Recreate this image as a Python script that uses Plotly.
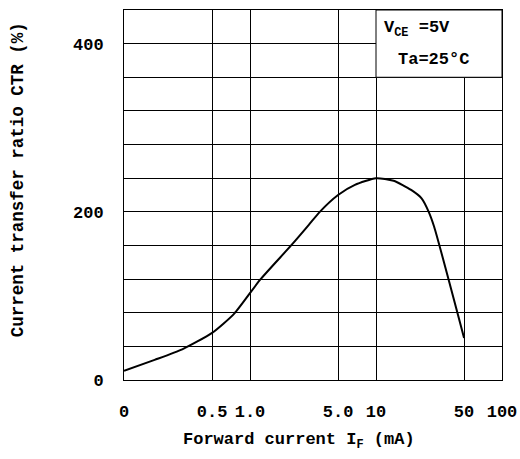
import plotly.graph_objects as go

# Forward current IF (mA) and CTR (%)
if_ma = [0.1, 0.175, 0.29, 0.5, 0.75, 1.2, 2.12, 2.93, 3.58, 5.0, 6.8,
         10, 13.8, 19, 23, 26.2, 28.9, 50]
ctr = [11, 24, 36.5, 56, 79, 119, 160, 184.5, 200, 220, 232,
       240, 237, 226, 216, 200, 182.5, 50]

x_ticks = [0.1, 0.5, 1, 5, 10, 50, 100]
x_tick_text = ["0", "0.5", "1.0", "5.0", "10", "50", "100"]
y_ticks = list(range(0, 441, 40))
y_tick_text = [str(v) if v in (0, 200, 400) else "" for v in y_ticks]

FONT = "Liberation Mono, DejaVu Sans Mono, monospace"

fig = go.Figure()

fig.add_trace(go.Scatter(
    x=if_ma,
    y=ctr,
    mode='lines',
    line=dict(color='black', width=2, shape='spline', smoothing=0.6),
    showlegend=False,
    hoverinfo='skip'
))

# Condition box in the upper right corner (covers the grid)
fig.add_shape(
    type="rect", xref="x", yref="y",
    x0=10, x1=100, y0=360, y1=440,
    fillcolor="white", line=dict(color="black", width=1),
    layer="above"
)

fig.add_annotation(
    text="V<sub>CE</sub> =5V", xref="x", yref="y",
    x=1.05, y=418, xanchor="left", yanchor="middle", showarrow=False,
    font=dict(family=FONT, size=17, color="black", weight="bold")
)
fig.add_annotation(
    text="Ta=25°C", xref="x", yref="y",
    x=1.16, y=381, xanchor="left", yanchor="middle", showarrow=False,
    font=dict(family=FONT, size=17, color="black", weight="bold")
)

# Axis titles
fig.add_annotation(
    text="Forward current I<sub>F</sub> (mA)", xref="paper", yref="paper",
    x=0.463, y=-0.165, xanchor="center", yanchor="middle", showarrow=False,
    font=dict(family=FONT, size=17, color="black", weight="bold")
)
fig.add_annotation(
    text="Current transfer ratio CTR (%)", xref="paper", yref="paper",
    x=0, y=0.54, xshift=-106, xanchor="center", yanchor="middle",
    textangle=-90, showarrow=False,
    font=dict(family=FONT, size=17.5, color="black", weight="bold")
)

fig.update_xaxes(
    type='log',
    range=[-1, 2],
    tickvals=x_ticks,
    ticktext=x_tick_text,
    ticks='',
    ticklabelstandoff=16,
    automargin=False,
    showgrid=True, gridcolor='black', gridwidth=1,
    showline=True, linecolor='black', linewidth=1, mirror=True,
    zeroline=False,
    tickfont=dict(family=FONT, size=17, color='black', weight='bold')
)
fig.update_yaxes(
    range=[0, 440],
    tickvals=y_ticks,
    ticktext=y_tick_text,
    ticks='',
    ticklabelstandoff=16,
    automargin=False,
    showgrid=True, gridcolor='black', gridwidth=1,
    showline=True, linecolor='black', linewidth=1, mirror=True,
    zeroline=False,
    tickfont=dict(family=FONT, size=17, color='black', weight='bold')
)

fig.update_layout(
    width=520,
    height=459,
    margin=dict(l=124, r=18, t=10, b=79),
    paper_bgcolor='white',
    plot_bgcolor='white',
    showlegend=False
)

# drop the default 8px page margin so the figure fills the window
fig.write_html(
    "out.html",
    config={"displayModeBar": False},
    post_script="document.body.style.margin='0';document.body.style.overflow='hidden';"
)
